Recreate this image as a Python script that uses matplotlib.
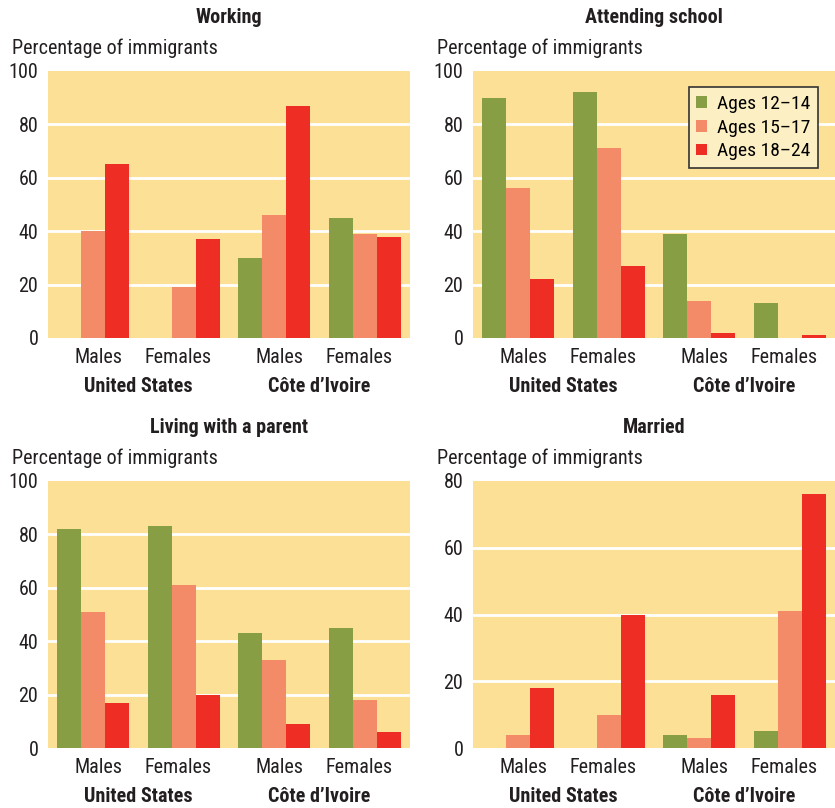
import matplotlib
matplotlib.use("Agg")
import matplotlib.pyplot as plt
import matplotlib.transforms as mtransforms
from matplotlib.patches import Patch
import numpy as np

plt.rcParams['font.family'] = ['Roboto Condensed', 'DejaVu Sans']

# data
groups = ['Males', 'Females', 'Males', 'Females']
countries = ['United States', 'Côte d\u2019Ivoire']
ages = ['Ages 12\u201314', 'Ages 15\u201317', 'Ages 18\u201324']

working_12 = [0, 0, 30, 45]
working_15 = [40, 19, 46, 39]
working_18 = [65, 37, 87, 38]

school_12 = [90, 92, 39, 13]
school_15 = [56, 71, 14, 0]
school_18 = [22, 27, 2, 1]

parent_12 = [82, 83, 43, 45]
parent_15 = [51, 61, 33, 18]
parent_18 = [17, 20, 9, 6]

married_12 = [0, 0, 4, 5]
married_15 = [4, 10, 3, 41]
married_18 = [18, 40, 16, 76]

colors = ['#889E45', '#F38A68', '#EE2E24']
bg = '#FCE095'
ink = '#231F20'
fs = 14.5

W, H = 835, 808
fig = plt.figure(figsize=(W / 100, H / 100), dpi=100)


def add_ax(x0, y0, x1, y1):
    # pixel box -> figure fraction
    return fig.add_axes([x0 / W, 1 - y1 / H, (x1 - x0) / W, (y1 - y0) / H])


def panel(ax, title, series, ymax, legend=False):
    x = np.arange(len(groups))
    bw = 0.8 / 3
    ax.set_facecolor(bg)
    for i, vals in enumerate(series):
        ax.bar(x + (i - 1) * bw, vals, bw, color=colors[i], zorder=3)
    ax.set_xlim(-0.5, 3.5)
    ax.set_ylim(0, ymax)
    ticks = list(range(0, ymax + 1, 20))
    ax.set_yticks(ticks)
    for t in ticks[1:-1]:
        ax.axhline(t, color='white', lw=2, zorder=1)
    # labels sit a bit toward the middle of each country pair
    ax.set_xticks(x + np.array([0.06, -0.06, 0.06, -0.06]))
    ax.set_xticklabels(groups)
    ax.tick_params(length=0, labelsize=fs, colors=ink)
    ax.tick_params(axis='y', pad=7)
    ax.tick_params(axis='x', pad=7)
    for s in ax.spines.values():
        s.set_visible(False)
    trans = mtransforms.blended_transform_factory(ax.transData, ax.transAxes)
    ax.text(0.5, -0.18, countries[0], transform=trans, ha='center', va='center',
            fontsize=fs, fontweight='bold', color=ink)
    ax.text(2.5, -0.18, countries[1], transform=trans, ha='center', va='center',
            fontsize=fs, fontweight='bold', color=ink)
    ax.text(-0.099, 1.086, 'Percentage of immigrants', transform=ax.transAxes,
            ha='left', va='center', fontsize=fs, color=ink)
    ax.text(0.5, 1.2, title, transform=ax.transAxes, ha='center', va='center',
            fontsize=fs, fontweight='bold', color=ink)
    if legend:
        handles = [Patch(facecolor=c) for c in colors]
        lg = ax.legend(handles, ages, loc='upper right', bbox_to_anchor=(0.953, 0.94),
                       borderaxespad=0, fancybox=False, framealpha=1,
                       facecolor='#FDEFC4', edgecolor='#333333', fontsize=14,
                       handlelength=0.55, handleheight=0.55, handletextpad=0.5,
                       labelspacing=0.3, borderpad=0.4)
        lg.get_frame().set_linewidth(1.2)
        lg.set_zorder(5)


ax1 = add_ax(48, 71, 410, 338)
panel(ax1, 'Working', [working_12, working_15, working_18], 100)
ax2 = add_ax(473, 71, 835, 338)
panel(ax2, 'Attending school', [school_12, school_15, school_18], 100, legend=True)
ax3 = add_ax(48, 481, 410, 748)
panel(ax3, 'Living with a parent', [parent_12, parent_15, parent_18], 100)
ax4 = add_ax(473, 481, 835, 748)
panel(ax4, 'Married', [married_12, married_15, married_18], 80)

fig.savefig('out.png', dpi=100, facecolor='white')
